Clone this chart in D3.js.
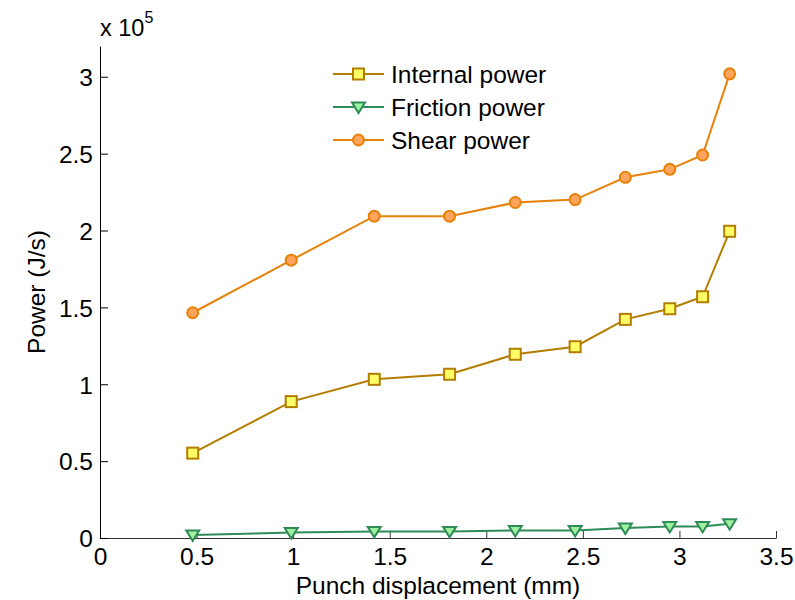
<!DOCTYPE html>
<html lang="en">
<head>
  <meta charset="UTF-8">
  <title>Power vs punch displacement</title>
  <script src="https://d3js.org/d3.v7.min.js"></script>
  <style>
    body { margin: 0; background: #fff; }
    text { font-family: Arial, "Liberation Sans", sans-serif; }
  </style>
</head>
<body>
  <script>
    // data (power in units of 1e5 J/s)
    var displacement = [0.48, 0.99, 1.42, 1.81, 2.15, 2.46, 2.72, 2.95, 3.12, 3.26];
    var internalPower = [0.552, 0.887, 1.032, 1.065, 1.195, 1.244, 1.422, 1.491, 1.569, 1.995];
    var frictionPower = [0.02, 0.035, 0.043, 0.043, 0.049, 0.049, 0.065, 0.075, 0.075, 0.093];
    var shearPower = [1.465, 1.807, 2.093, 2.093, 2.182, 2.201, 2.346, 2.398, 2.491, 3.019];
    var seriesNames = ["Internal power", "Friction power", "Shear power"];
    var xTicks = [0, 0.5, 1, 1.5, 2, 2.5, 3, 3.5];
    var yTicks = [0, 0.5, 1, 1.5, 2, 2.5, 3];

    var width = 795, height = 600;
    var margin = { left: 100, right: 19, top: 46, bottom: 62 };

    var svg = d3.select("body").append("svg")
      .attr("width", width)
      .attr("height", height);

    var xScale = d3.scaleLinear()
      .domain([0, 3.5])
      .range([margin.left, width - margin.right]);

    var yScale = d3.scaleLinear()
      .domain([0, 3.2])
      .range([height - margin.bottom, margin.top]);

    // x axis, ticks pointing inward
    var xAxis = svg.append("g")
      .attr("transform", "translate(0," + (height - margin.bottom) + ")")
      .call(d3.axisBottom(xScale).tickValues(xTicks).tickSizeInner(-7).tickSizeOuter(0)
        .tickFormat(d3.format("")));
    xAxis.select(".domain").attr("stroke", "#333");
    xAxis.selectAll(".tick line").attr("stroke", "#333");
    xAxis.selectAll(".tick text")
      .attr("y", 27)
      .attr("dy", 0)
      .attr("fill", "#000")
      .style("font-size", "24.5px");

    // y axis
    var yAxis = svg.append("g")
      .attr("transform", "translate(" + margin.left + ",0)")
      .call(d3.axisLeft(yScale).tickValues(yTicks).tickSizeInner(-8).tickSizeOuter(0)
        .tickFormat(d3.format("")));
    yAxis.select(".domain").attr("stroke", "#000");
    yAxis.selectAll(".tick line").attr("stroke", "#000");
    yAxis.selectAll(".tick text")
      .attr("x", -7)
      .attr("dy", "0.36em")
      .attr("fill", "#000")
      .style("font-size", "24.5px");

    // exponent label
    var expo = svg.append("text")
      .attr("x", 100)
      .attr("y", 36)
      .style("font-size", "23.5px")
      .text("x 10");
    expo.append("tspan")
      .attr("dy", -13)
      .style("font-size", "16px")
      .text("5");

    // axis labels
    svg.append("text")
      .attr("x", (margin.left + width - margin.right) / 2)
      .attr("y", 594)
      .attr("text-anchor", "middle")
      .style("font-size", "24.5px")
      .text("Punch displacement (mm)");

    svg.append("text")
      .attr("transform", "translate(45," + ((margin.top + height - margin.bottom) / 2) + ") rotate(-90)")
      .attr("text-anchor", "middle")
      .style("font-size", "24.5px")
      .text("Power (J/s)");

    var series = [
      { name: seriesNames[0], values: internalPower, line: "#b37d00", face: "#ffff66", marker: "square" },
      { name: seriesNames[1], values: frictionPower, line: "#2e8b57", face: "#9ff09f", marker: "triangle" },
      { name: seriesNames[2], values: shearPower, line: "#e6820a", face: "#ffa45c", marker: "circle" }
    ];

    var line = d3.line()
      .x(function (d, i) { return xScale(displacement[i]); })
      .y(function (d) { return yScale(d); });

    function drawMarker(g, type, cx, cy, s) {
      if (type === "square") {
        g.append("rect")
          .attr("x", cx - 5.5).attr("y", cy - 5.5)
          .attr("width", 11).attr("height", 11)
          .attr("fill", s.face).attr("stroke", s.line).attr("stroke-width", 2);
      } else if (type === "circle") {
        g.append("circle")
          .attr("cx", cx).attr("cy", cy).attr("r", 5.5)
          .attr("fill", s.face).attr("stroke", s.line).attr("stroke-width", 2);
      } else {
        g.append("path")
          .attr("d", "M" + (cx - 6.5) + "," + (cy - 4.5) + "L" + (cx + 6.5) + "," + (cy - 4.5) + "L" + cx + "," + (cy + 6) + "Z")
          .attr("fill", s.face).attr("stroke", s.line).attr("stroke-width", 2)
          .attr("stroke-linejoin", "miter");
      }
    }

    series.forEach(function (s) {
      svg.append("path")
        .datum(s.values)
        .attr("d", line)
        .attr("fill", "none")
        .attr("stroke", s.line)
        .attr("stroke-width", 2);
      var g = svg.append("g");
      s.values.forEach(function (v, i) {
        drawMarker(g, s.marker, xScale(displacement[i]), yScale(v), s);
      });
    });

    // legend
    var legend = svg.append("g").attr("transform", "translate(333,74)");
    series.forEach(function (s, i) {
      var row = legend.append("g").attr("transform", "translate(0," + (i * 33) + ")");
      row.append("line")
        .attr("x1", 0).attr("x2", 51)
        .attr("stroke", s.line).attr("stroke-width", 2);
      drawMarker(row, s.marker, 25.5, 0, s);
      row.append("text")
        .attr("x", 58)
        .attr("dy", "0.36em")
        .style("font-size", "24.5px")
        .text(s.name);
    });
  </script>
</body>
</html>
